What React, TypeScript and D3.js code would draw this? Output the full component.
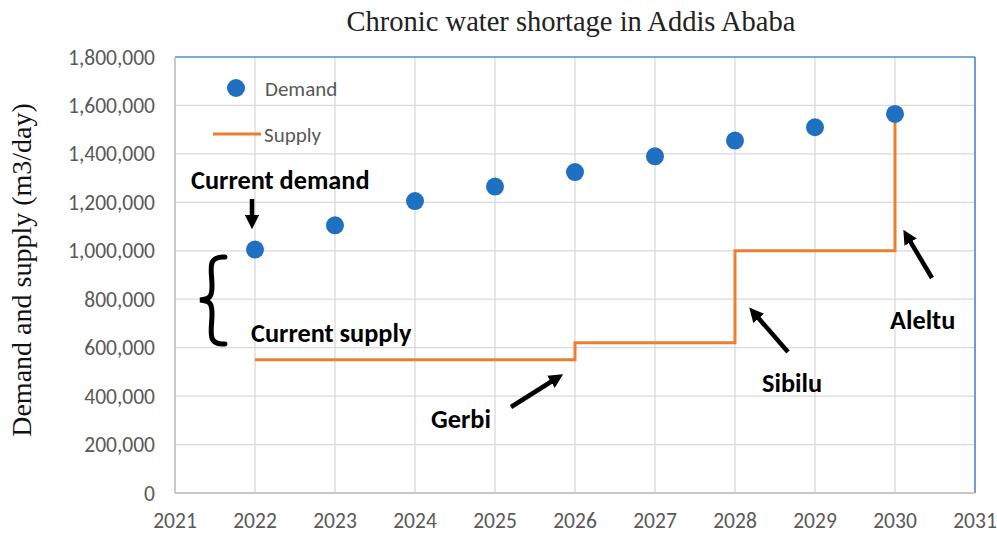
import React from 'react';
import * as d3 from 'd3';

const years = [2022, 2023, 2024, 2025, 2026, 2027, 2028, 2029, 2030];
const demand = [1005000, 1105000, 1205000, 1265000, 1325000, 1390000, 1455000, 1510000, 1565000];
const supplyYears = [2022, 2026, 2028, 2030];
const supplyValues = [550000, 620000, 1000000, 1565000];
const xTicks = [2021, 2022, 2023, 2024, 2025, 2026, 2027, 2028, 2029, 2030, 2031];
const yTicks = [0, 200000, 400000, 600000, 800000, 1000000, 1200000, 1400000, 1600000, 1800000];

const W = 997;
const H = 533;
const margin = { top: 57, right: 22, bottom: 40, left: 175 };

const blue = '#1f70c1';
const orange = '#ed7d31';
const grid = '#d9d9d9';
const tickColor = '#595959';
const sans = 'Calibri, Carlito, "Open Sans", sans-serif';
const serif = '"Liberation Serif", "DejaVu Serif", serif';

const Arrow: React.FC<{ x1: number; y1: number; x2: number; y2: number }> = ({ x1, y1, x2, y2 }) => (
  <line x1={x1} y1={y1} x2={x2} y2={y2} stroke="#000" strokeWidth={4.5} markerEnd="url(#arrowHead)" />
);

export default function App() {
  const x = d3.scaleLinear().domain([2021, 2031]).range([margin.left, W - margin.right]);
  const y = d3.scaleLinear().domain([0, 1800000]).range([H - margin.bottom, margin.top]);
  const fmt = d3.format(',');

  const supplyLine = d3
    .line<number>()
    .x((_, i) => x(supplyYears[i]))
    .y((d) => y(d))
    .curve(d3.curveStepAfter);

  const [x0, x1] = x.range();
  const [y0, y1] = y.range();

  return (
    <svg width={W} height={H} style={{ position: 'absolute', left: 0, top: 0, background: '#fff' }}>
      <defs>
        <marker id="arrowHead" viewBox="0 0 10 10" refX="5" refY="5" markerWidth="3.2" markerHeight="3.2" orient="auto">
          <path d="M0,0 L10,5 L0,10 z" fill="#000" />
        </marker>
      </defs>

      {/* grid */}
      {yTicks.map((t) => (
        <line key={'gy' + t} x1={x0} x2={x1} y1={y(t)} y2={y(t)} stroke={grid} strokeWidth={1.3} />
      ))}
      {xTicks.map((t) => (
        <line key={'gx' + t} x1={x(t)} x2={x(t)} y1={y0} y2={y1} stroke={grid} strokeWidth={1.3} />
      ))}
      {/* frame */}
      <line x1={x0} x2={x1} y1={y1} y2={y1} stroke={blue} strokeWidth={1.2} />
      <line x1={x1} x2={x1} y1={y1} y2={y0} stroke={blue} strokeWidth={1.2} />
      <line x1={x0} x2={x1} y1={y0} y2={y0} stroke="#bfbfbf" strokeWidth={1.5} />
      <line x1={x0} x2={x0} y1={y1} y2={y0} stroke="#bfbfbf" strokeWidth={1.5} />

      {/* tick labels */}
      {yTicks.map((t) => (
        <text key={'ty' + t} x={x0 - 20} y={y(t)} dy="0.35em" textAnchor="end" fontFamily={sans} fontSize={21.5} fill={tickColor}>
          {fmt(t)}
        </text>
      ))}
      {xTicks.map((t) => (
        <text key={'tx' + t} x={x(t)} y={y0 + 35} textAnchor="middle" fontFamily={sans} fontSize={21.5} fill={tickColor}>
          {t}
        </text>
      ))}

      {/* title and axis label */}
      <text x={571} y={31} textAnchor="middle" fontFamily={serif} fontSize={28.5} fill="#222">
        Chronic water shortage in Addis Ababa
      </text>
      <text transform={`translate(31,${(y0 + y1) / 2 - 5}) rotate(-90)`} textAnchor="middle" fontFamily={serif} fontSize={28} fill="#111">
        Demand and supply (m3/day)
      </text>

      {/* supply */}
      <path d={supplyLine(supplyValues) || ''} fill="none" stroke={orange} strokeWidth={3} />

      {/* demand */}
      {years.map((yr, i) => (
        <circle key={'d' + yr} cx={x(yr)} cy={y(demand[i])} r={9} fill={blue} />
      ))}

      {/* legend */}
      <circle cx={236} cy={88} r={9} fill={blue} />
      <text x={265} y={89} dy="0.35em" fontFamily={sans} fontSize={21} fill={tickColor}>Demand</text>
      <line x1={213} x2={261} y1={134} y2={134} stroke={orange} strokeWidth={3} />
      <text x={264} y={135} dy="0.35em" fontFamily={sans} fontSize={21} fill={tickColor}>Supply</text>

      {/* annotations */}
      <g fontFamily={sans} fontWeight="bold" fontSize={26.3} fill="#000">
        <text x={191} y={189}>Current demand</text>
        <text x={251} y={342}>Current supply</text>
        <text x={431} y={428}>Gerbi</text>
        <text x={762} y={392}>Sibilu</text>
        <text x={890} y={329}>Aleltu</text>
      </g>
      <Arrow x1={252} y1={199} x2={252} y2={222} />
      <Arrow x1={511} y1={407} x2={557} y2={378} />
      <Arrow x1={788} y1={352} x2={754} y2={313} />
      <Arrow x1={932} y1={278} x2={907} y2={236} />

      {/* curly brace */}
      <path
        d="M225,257 C206,256 212,270 212,286 C212,297 210,299 200,300 C210,301 212,303 212,314 C212,331 206,345 225,344"
        fill="none"
        stroke="#000"
        strokeWidth={5}
        strokeLinecap="round"
      />
    </svg>
  );
}
